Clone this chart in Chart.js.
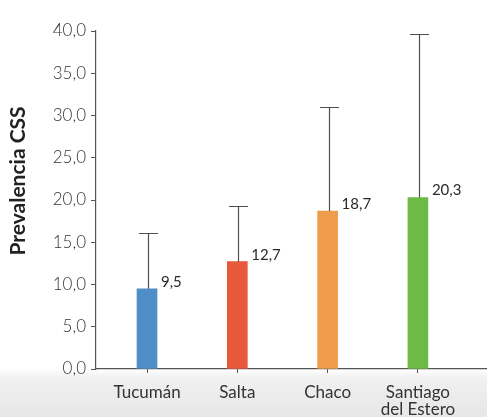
<!DOCTYPE html>
<html>
<head>
<meta charset="utf-8">
<script src="https://cdn.jsdelivr.net/npm/chart.js@4.4.1/dist/chart.umd.min.js"></script>
<style>
  html, body { margin: 0; padding: 0; }
  body {
    width: 487px; height: 417px; overflow: hidden;
    background: linear-gradient(to bottom, #ffffff 0px, #ffffff 369px, #f0f0f0 378px, #e7e7e7 417px);
  }
  #wrap { position: relative; width: 487px; height: 417px; }
</style>
</head>
<body>
<div id="wrap"><canvas id="c" width="487" height="417"></canvas></div>
<script>
// ---- data ----
const categories = [["Tucumán"], ["Salta"], ["Chaco"], ["Santiago", "del Estero"]];
const prevalence = [9.5, 12.7, 18.7, 20.3];
const upperLimit = [16.1, 19.3, 31.0, 39.6];
const barColors = ["#4f8ec6", "#e8593b", "#ee9c4c", "#6dba46"];
const yTicks = [0, 5, 10, 15, 20, 25, 30, 35, 40];
const yTitle = "Prevalencia CSS";

const fmt = v => v.toFixed(1).replace('.', ',');
const FONT = 'Lato, "DejaVu Sans", sans-serif';

const errorBars = {
  id: 'errorBars',
  afterDatasetsDraw(chart) {
    const ctx = chart.ctx;
    const xs = chart.scales.x, ys = chart.scales.y;
    ctx.save();
    ctx.strokeStyle = '#505050';
    ctx.lineWidth = 1.2;
    prevalence.forEach((v, i) => {
      const x = Math.round(xs.getPixelForValue(i)) + 1.5;
      const yb = ys.getPixelForValue(v);
      const yt = Math.round(ys.getPixelForValue(upperLimit[i])) + 0.5;
      ctx.beginPath();
      ctx.moveTo(x, yb);
      ctx.lineTo(x, yt);
      ctx.moveTo(x - 9.5, yt);
      ctx.lineTo(x + 9.5, yt);
      ctx.stroke();
      ctx.fillStyle = '#2a2a2a';
      ctx.font = '15px ' + FONT;
      ctx.textAlign = 'left';
      ctx.textBaseline = 'middle';
      ctx.fillText(fmt(v), xs.getPixelForValue(i) + 14, yb - 7);
    });
    // y axis title
    ctx.save();
    ctx.translate(18, 181);
    ctx.rotate(-Math.PI / 2);
    ctx.fillStyle = '#222';
    ctx.font = 'bold 21px ' + FONT;
    ctx.textAlign = 'center';
    ctx.textBaseline = 'middle';
    ctx.fillText(yTitle, 0, 0);
    ctx.restore();
    ctx.restore();
  }
};

new Chart(document.getElementById('c'), {
  type: 'bar',
  data: {
    datasets: [{
      data: prevalence.map((v, i) => ({ x: i, y: v })),
      backgroundColor: barColors,
      borderWidth: 0,
      barThickness: 20
    }]
  },
  options: {
    responsive: false,
    animation: false,
    events: [],
    layout: { padding: { top: 31, right: 0, left: 0, bottom: 0 } },
    plugins: { legend: { display: false }, tooltip: { enabled: false } },
    scales: {
      x: {
        type: 'linear',
        min: -0.565,
        max: 3.765,
        offset: false,
        afterBuildTicks(scale) { scale.ticks = categories.map((c, i) => ({ value: i })); },
        afterFit(scale) { scale.height = 48; },
        grid: { display: true, offset: false, drawOnChartArea: false, drawTicks: true, tickLength: 4, color: '#555' },
        border: { display: true, color: '#555', width: 1.2 },
        ticks: {
          autoSkip: false,
          maxRotation: 0,
          padding: 11,
          color: '#333',
          font: { family: FONT, size: 17, lineHeight: 1.0 },
          callback: (v) => categories[v] || ''
        }
      },
      y: {
        min: 0,
        max: 40,
        afterBuildTicks(scale) { scale.ticks = yTicks.map(v => ({ value: v })); },
        afterFit(scale) { scale.width = 96; },
        grid: { display: true, drawOnChartArea: false, drawTicks: true, tickLength: 5, color: '#555' },
        border: { display: true, color: '#555', width: 1.2 },
        title: { display: false },
        ticks: {
          padding: 5,
          color: '#333',
          font: { family: FONT, size: 17, weight: '300' },
          callback: (v) => fmt(v)
        }
      }
    }
  },
  plugins: [errorBars]
});
</script>
</body>
</html>
